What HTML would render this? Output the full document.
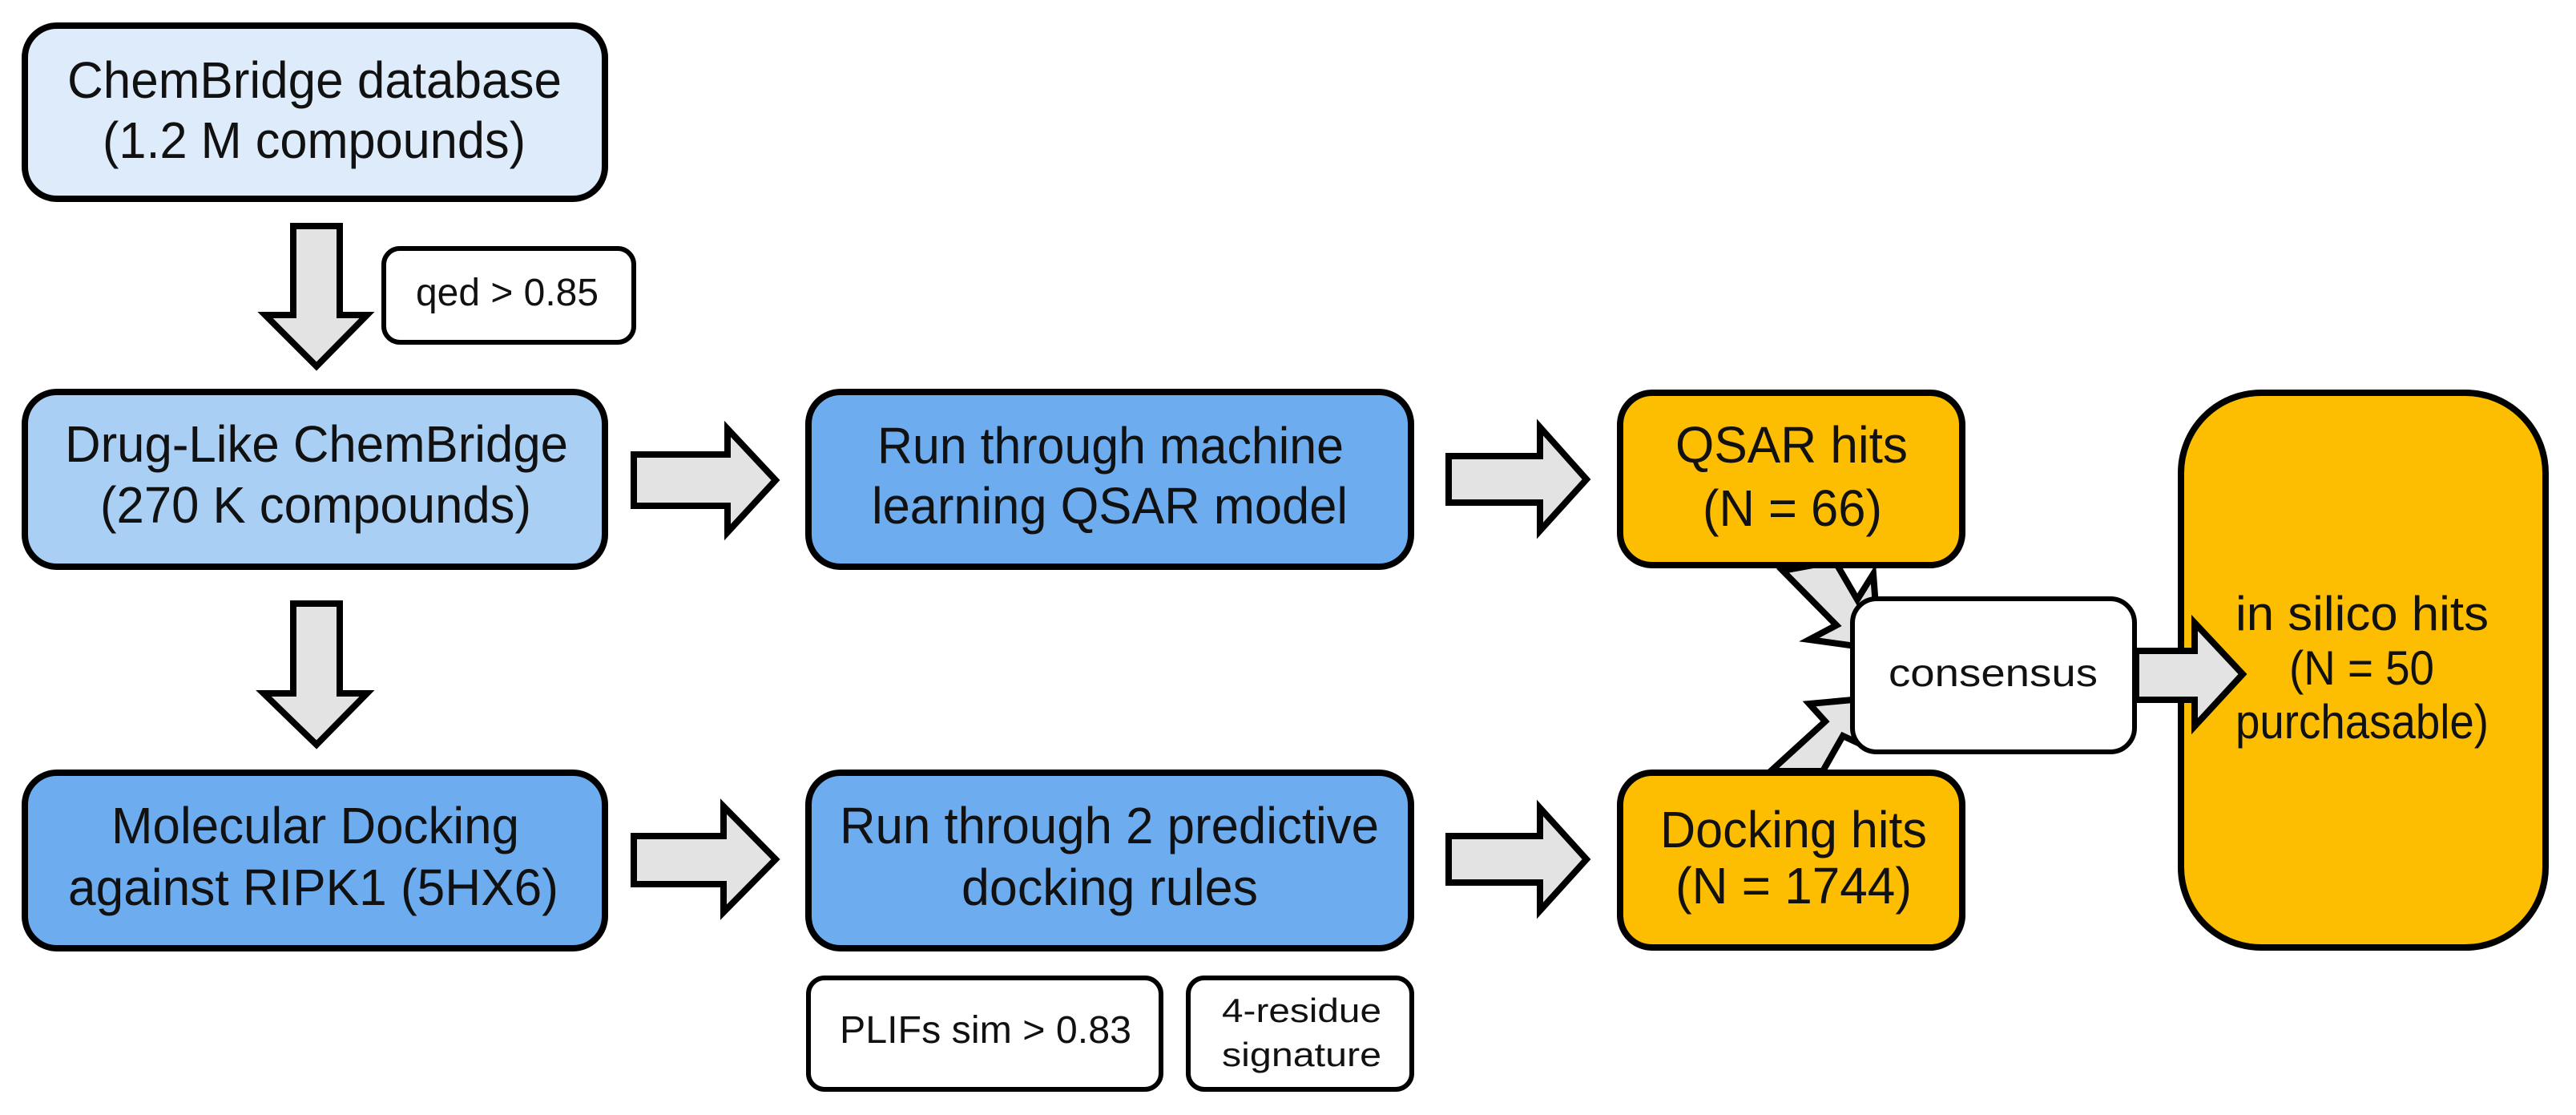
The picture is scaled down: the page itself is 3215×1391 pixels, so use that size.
<!DOCTYPE html>
<html><head><meta charset="utf-8"><style>html,body{margin:0;padding:0;background:#fff}svg{display:block}</style></head>
<body>
<svg width="3215" height="1391" viewBox="0 0 3215 1391" xmlns="http://www.w3.org/2000/svg" font-family="Liberation Sans, Arial, sans-serif" fill="#111">
<g stroke="#000" stroke-width="8" stroke-linejoin="miter">
  <polygon points="2225,712 2290,700 2318,748 2338,716 2345,810 2258,798 2292,780" fill="#e3e3e3"/>
  <polygon points="2210,962 2275,962 2300,918 2330,932 2345,870 2258,878 2278,900" fill="#e3e3e3"/>
  <rect x="31" y="32" width="724" height="216" rx="40" fill="#ddebfa"/>
  <rect x="31" y="489" width="724" height="218" rx="40" fill="#a9cff5"/>
  <rect x="31" y="964" width="724" height="219" rx="40" fill="#6cacef"/>
  <rect x="1009" y="489" width="752" height="218" rx="40" fill="#6cacef"/>
  <rect x="1009" y="964" width="752" height="219" rx="40" fill="#6cacef"/>
  <rect x="2022" y="490" width="427" height="215" rx="40" fill="#fdbd00"/>
  <rect x="2022" y="964" width="427" height="218" rx="40" fill="#fdbd00"/>
  <rect x="2722" y="490" width="455" height="692" rx="100" fill="#fdbd00"/>
  <rect x="2312" y="747" width="352" height="191" rx="30" fill="#fff" stroke-width="6"/>
  <rect x="479" y="310" width="312" height="117" rx="20" fill="#fff" stroke-width="6"/>
  <rect x="1009" y="1220" width="440" height="139" rx="20" fill="#fff" stroke-width="6"/>
  <rect x="1483" y="1220" width="279" height="139" rx="20" fill="#fff" stroke-width="6"/>
  <polygon points="366,282 424,282 424,393 458,393 395,457 331,393 366,393" fill="#e3e3e3"/>
  <polygon points="366,753 424,753 424,865 458,865 395,929 329,865 366,865" fill="#e3e3e3"/>
  <polygon points="791,567 908,567 908,535 968,599 908,664 908,631 791,631" fill="#e3e3e3"/>
  <polygon points="791,1043 903,1043 903,1006 968,1072 903,1138 903,1103 791,1103" fill="#e3e3e3"/>
  <polygon points="1808,569 1922,569 1922,533 1980,598 1922,662 1922,627 1808,627" fill="#e3e3e3"/>
  <polygon points="1808,1043 1922,1043 1922,1008 1980,1072 1922,1136 1922,1101 1808,1101" fill="#e3e3e3"/>
  <polygon points="2666,812 2739,812 2739,777 2799,841 2739,906 2739,873 2666,873" fill="#e3e3e3"/>
</g>
<g font-size="64">
  <text x="84" y="122" textLength="617" lengthAdjust="spacingAndGlyphs">ChemBridge database</text>
  <text x="128" y="197" textLength="528" lengthAdjust="spacingAndGlyphs">(1.2 M compounds)</text>
  <text x="81" y="576" textLength="628" lengthAdjust="spacingAndGlyphs">Drug-Like ChemBridge</text>
  <text x="125" y="652" textLength="538" lengthAdjust="spacingAndGlyphs">(270 K compounds)</text>
  <text x="139" y="1052" textLength="509" lengthAdjust="spacingAndGlyphs">Molecular Docking</text>
  <text x="85" y="1129" textLength="612" lengthAdjust="spacingAndGlyphs">against RIPK1 (5HX6)</text>
  <text x="1095" y="578" textLength="582" lengthAdjust="spacingAndGlyphs">Run through machine</text>
  <text x="1088" y="653" textLength="594" lengthAdjust="spacingAndGlyphs">learning QSAR model</text>
  <text x="1048" y="1052" textLength="673" lengthAdjust="spacingAndGlyphs">Run through 2 predictive</text>
  <text x="1200" y="1129" textLength="370" lengthAdjust="spacingAndGlyphs">docking rules</text>
  <text x="2091" y="577" textLength="290" lengthAdjust="spacingAndGlyphs">QSAR hits</text>
  <text x="2125" y="656" textLength="224" lengthAdjust="spacingAndGlyphs">(N = 66)</text>
  <text x="2072" y="1057" textLength="333" lengthAdjust="spacingAndGlyphs">Docking hits</text>
  <text x="2091" y="1127" textLength="295" lengthAdjust="spacingAndGlyphs">(N = 1744)</text>
</g>
<g font-size="60">
  <text x="2790" y="786" textLength="316" lengthAdjust="spacingAndGlyphs">in silico hits</text>
  <text x="2857" y="854" textLength="181" lengthAdjust="spacingAndGlyphs">(N = 50</text>
  <text x="2790" y="921" textLength="316" lengthAdjust="spacingAndGlyphs">purchasable)</text>
</g>
<g font-size="48">
  <text x="2357" y="856" textLength="261" lengthAdjust="spacingAndGlyphs">consensus</text>
  <text x="519" y="381" textLength="228" lengthAdjust="spacingAndGlyphs">qed &gt; 0.85</text>
  <text x="1048" y="1301" textLength="364" lengthAdjust="spacingAndGlyphs">PLIFs sim &gt; 0.83</text>
</g>
<g font-size="42">
  <text x="1525" y="1275" textLength="199" lengthAdjust="spacingAndGlyphs">4-residue</text>
  <text x="1525" y="1330" textLength="199" lengthAdjust="spacingAndGlyphs">signature</text>
</g>
</svg>
</body></html>
